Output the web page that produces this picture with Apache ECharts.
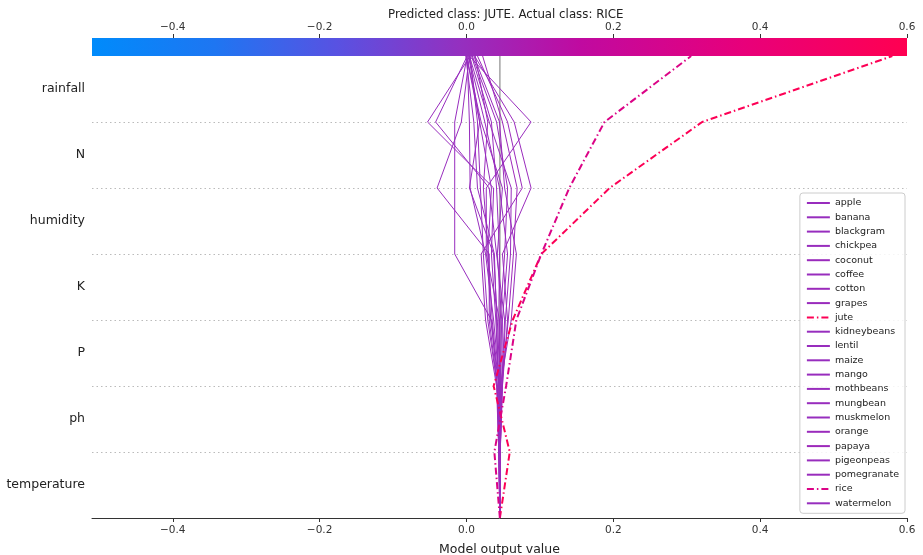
<!DOCTYPE html>
<html>
<head>
<meta charset="utf-8">
<script src="https://cdn.jsdelivr.net/npm/echarts@6/dist/echarts.min.js"></script>
<style>
  html, body { margin: 0; padding: 0; background: #fff; }
  #chart { width: 923px; height: 555px; }
</style>
</head>
<body>
<div id="chart"></div>
<script>
// Features, listed top to bottom as they appear on the plot
const features = ['rainfall', 'N', 'humidity', 'K', 'P', 'ph', 'temperature'];
const baseValue = 0.0455;
const xTicks = [-0.4, -0.2, 0.0, 0.2, 0.4, 0.6];
const xMin = -0.51, xMax = 0.6;

// Cumulative model output after each feature, from the bottom up:
// temperature, ph, P, K, humidity, N, rainfall
const apple       = [0.045, 0.044, 0.040, 0.034, 0.037, -0.053, 0.005];
const banana      = [0.046, 0.048, 0.052, 0.041, 0.031, -0.042, 0.001];
const blackgram   = [0.044, 0.042, 0.034, -0.016, -0.016, -0.016, 0.001];
const chickpea    = [0.045, 0.042, 0.031, 0.031, -0.040, -0.007, 0.004];
const coconut     = [0.046, 0.049, 0.056, 0.049, 0.088, 0.065, 0.011];
const coffee      = [0.045, 0.046, 0.045, 0.027, 0.027, 0.088, 0.004];
const cotton      = [0.044, 0.041, 0.026, 0.020, 0.076, 0.056, 0.015];
const grapes      = [0.045, 0.046, 0.061, 0.068, 0.052, 0.045, 0.010];
const jute        = [0.059, 0.037, 0.063, 0.102, 0.195, 0.321, 0.580];
const kidneybeans = [0.045, 0.044, 0.041, 0.038, 0.015, 0.010, -0.001];
const lentil      = [0.046, 0.048, 0.049, 0.056, 0.045, 0.025, 0.003];
const maize       = [0.045, 0.045, 0.037, 0.026, 0.005, 0.004, 0.001];
const mango       = [0.044, 0.042, 0.029, 0.023, 0.019, 0.015, 0.005];
const mothbeans   = [0.045, 0.045, 0.044, 0.045, 0.041, 0.034, 0.007];
const mungbean    = [0.046, 0.049, 0.053, 0.060, 0.061, 0.031, 0.004];
const muskmelon   = [0.045, 0.046, 0.048, 0.042, 0.049, 0.020, 0.000];
const orange      = [0.045, 0.044, 0.035, 0.030, 0.023, 0.029, 0.012];
const papaya      = [0.046, 0.048, 0.057, 0.064, 0.069, 0.049, 0.022];
const pigeonpeas  = [0.045, 0.046, 0.042, 0.037, 0.004, 0.018, 0.003];
const pomegranate = [0.044, 0.045, 0.046, 0.052, 0.056, 0.041, 0.008];
const rice        = [0.038, 0.054, 0.068, 0.102, 0.140, 0.188, 0.306];
const watermelon  = [0.045, 0.044, 0.033, 0.029, 0.034, 0.018, 0.000];

const classNames = ['apple', 'banana', 'blackgram', 'chickpea', 'coconut', 'coffee',
  'cotton', 'grapes', 'jute', 'kidneybeans', 'lentil', 'maize', 'mango', 'mothbeans',
  'mungbean', 'muskmelon', 'orange', 'papaya', 'pigeonpeas', 'pomegranate', 'rice',
  'watermelon'];
const classValues = [apple, banana, blackgram, chickpea, coconut, coffee, cotton,
  grapes, jute, kidneybeans, lentil, maize, mango, mothbeans, mungbean, muskmelon,
  orange, papaya, pigeonpeas, pomegranate, rice, watermelon];
const highlighted = ['jute', 'rice'];

// Blue-to-red colour scale shared by the colour bar and the lines
const colorStops = [
  [0.00, [0, 139, 251]],
  [0.15, [30, 118, 242]],
  [0.30, [88, 82, 226]],
  [0.45, [148, 48, 192]],
  [0.60, [192, 10, 160]],
  [0.80, [232, 0, 122]],
  [1.00, [255, 0, 81]]
];
function scaleColor(v) {
  let t = (v - xMin) / (xMax - xMin);
  t = Math.max(0, Math.min(1, t));
  for (let i = 1; i < colorStops.length; i++) {
    const [t1, c1] = colorStops[i];
    const [t0, c0] = colorStops[i - 1];
    if (t <= t1) {
      const f = (t - t0) / (t1 - t0);
      const c = c0.map((a, k) => Math.round(a + (c1[k] - a) * f));
      return 'rgb(' + c.join(',') + ')';
    }
  }
  return 'rgb(255,0,81)';
}

const fontFamily = 'DejaVu Sans';
const fmt = v => (Math.abs(v) < 1e-9 ? '0.0' : v.toFixed(1).replace('-', '\u2212'));

const series = classNames.map((name, idx) => {
  const vals = [baseValue].concat(classValues[idx]);
  const isHi = highlighted.includes(name);
  const col = scaleColor(vals[vals.length - 1]);
  return {
    name: name,
    type: 'line',
    color: col,
    xAxisIndex: 0,
    yAxisIndex: 0,
    data: vals.map((v, i) => [v, i]),
    showSymbol: false,
    symbol: 'none',
    silent: true,
    z: isHi ? 4 : 3,
    lineStyle: {
      color: col,
      width: isHi ? 2 : 1,
      type: isHi ? [7, 3, 1.5, 3] : 'solid'
    },
    itemStyle: { color: col }
  };
});

// vertical reference line at the base value
series.push({
  name: 'base',
  type: 'line',
  xAxisIndex: 0,
  yAxisIndex: 0,
  data: [[baseValue, 0], [baseValue, features.length]],
  showSymbol: false,
  silent: true,
  z: 2,
  lineStyle: { color: '#999', width: 1.6, opacity: 0.85 }
});

const chart = echarts.init(document.getElementById('chart'), null, { renderer: 'canvas' });
const grid = { left: 92, right: 16, top: 56, bottom: 37, outerBoundsMode: 'none', containLabel: false };

chart.setOption({
  animation: false,
  backgroundColor: '#fff',
  textStyle: { fontFamily: fontFamily },
  title: {
    text: 'Predicted class: JUTE. Actual class: RICE',
    left: 383, top: 4,
    textStyle: { fontFamily: fontFamily, fontSize: 11.8, fontWeight: 'normal', color: '#222' }
  },
  grid: grid,
  legend: {
    data: classNames,
    orient: 'vertical',
    right: 18, top: 193,
    itemWidth: 23, itemHeight: 10, itemGap: 4.3,
    padding: [5, 6, 5, 6],
    borderColor: '#ccc', borderWidth: 1, borderRadius: 3,
    backgroundColor: 'rgba(255,255,255,0.85)',
    itemStyle: { opacity: 0 },
    textStyle: { fontFamily: fontFamily, fontSize: 9.5, color: '#222' },
    selectedMode: false
  },
  xAxis: [
    {
      type: 'value', position: 'bottom', min: xMin, max: xMax,
      name: 'Model output value', nameLocation: 'middle', nameGap: 25,
      nameTextStyle: { fontFamily: fontFamily, fontSize: 12.5, color: '#222' },
      axisLine: { show: true, lineStyle: { color: '#333', width: 1 } },
      axisTick: { show: true, length: 4, customValues: xTicks, lineStyle: { color: '#333' } },
      axisLabel: { customValues: xTicks, formatter: fmt, fontSize: 10.5, color: '#333', margin: 7 },
      splitLine: { show: false }
    },
    {
      type: 'value', position: 'top', offset: 18, min: xMin, max: xMax,
      axisLine: { show: false },
      axisTick: { show: true, length: 4, customValues: xTicks, lineStyle: { color: '#333' } },
      axisLabel: { customValues: xTicks, formatter: fmt, fontSize: 10.5, color: '#333', margin: 5 },
      splitLine: { show: false }
    }
  ],
  yAxis: [
    {
      type: 'value', min: 0, max: features.length, interval: 1,
      axisLine: { show: false }, axisTick: { show: false }, axisLabel: { show: false },
      splitLine: { show: true, showMinLine: false, showMaxLine: false,
        lineStyle: { color: '#bbb', type: [1.5, 3], width: 1 } }
    },
    {
      type: 'category', position: 'left',
      data: features.slice().reverse(),
      axisLine: { show: false }, axisTick: { show: false },
      axisLabel: { fontSize: 12.5, color: '#222', margin: 7 },
      splitLine: { show: false }
    }
  ],
  graphic: [
    {
      type: 'rect',
      shape: { x: grid.left, y: 38, width: 923 - grid.left - grid.right, height: 18 },
      style: {
        fill: new echarts.graphic.LinearGradient(0, 0, 1, 0,
          colorStops.map(([t, c]) => ({ offset: t, color: 'rgb(' + c.join(',') + ')' })))
      },
      silent: true,
      z: 1
    }
  ],
  series: series
});
</script>
</body>
</html>
